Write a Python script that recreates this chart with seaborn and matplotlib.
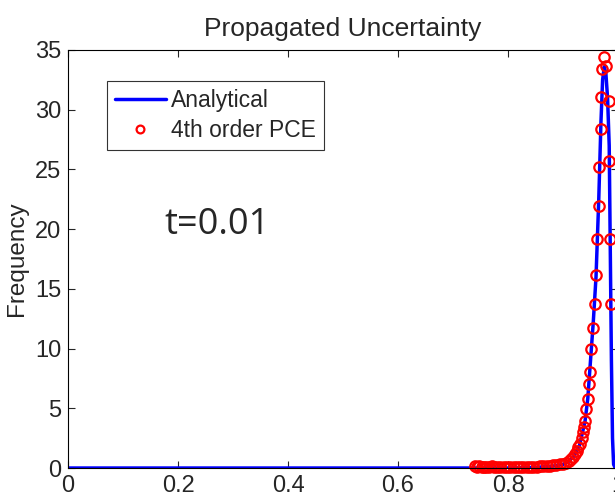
import matplotlib
matplotlib.use("Agg")
import matplotlib.pyplot as plt
import seaborn as sns

# analytical density (blue line)
exact_x = [0.0, 0.80, 0.85, 0.88, 0.90, 0.91, 0.92, 0.93, 0.94, 0.945, 0.95, 0.955,
           0.96, 0.965, 0.969, 0.972, 0.975, 0.978, 0.981, 0.984, 0.986, 0.988,
           0.990, 0.992, 0.995, 1.0]
exact_y = [0.0, 0.0, 0.05, 0.15, 0.30, 0.55, 1.0, 1.9, 3.9, 5.8, 9.0, 12.2,
           16.0, 22.5, 29.0, 32.5, 33.6, 33.0, 31.0, 27.0, 18.0, 9.0,
           2.5, 0.3, 0.0, 0.0]

# 4th order PCE estimate (red circles)
pce_x = [0.740, 0.744, 0.748, 0.752, 0.756, 0.760, 0.765, 0.770, 0.775, 0.780,
         0.786, 0.792, 0.798, 0.804, 0.810, 0.816, 0.822, 0.828, 0.834, 0.840,
         0.846, 0.852, 0.858, 0.864, 0.870, 0.876, 0.882, 0.888, 0.894, 0.900,
         0.905, 0.910, 0.914, 0.918, 0.922, 0.925, 0.928, 0.931, 0.934, 0.936,
         0.938, 0.940, 0.942, 0.945, 0.947, 0.949, 0.951, 0.9545, 0.958, 0.960,
         0.962, 0.9655, 0.9655, 0.969, 0.969, 0.971, 0.9745, 0.978, 0.9836, 0.984,
         0.985, 0.987]
pce_y = [0.15, 0.05, 0.20, 0.08, 0.12, 0.10, 0.05, 0.15, 0.08, 0.10,
         0.08, 0.05, 0.10, 0.08, 0.06, 0.08, 0.10, 0.10, 0.08, 0.10,
         0.12, 0.12, 0.14, 0.15, 0.17, 0.20, 0.22, 0.25, 0.30, 0.36,
         0.45, 0.58, 0.72, 0.90, 1.15, 1.45, 1.75, 2.05, 2.55, 3.00,
         3.40, 3.90, 4.90, 5.80, 7.00, 8.00, 10.0, 11.7, 13.7, 16.2,
         19.2, 21.9, 25.2, 28.4, 31.1, 33.4, 34.4, 33.7, 30.7, 25.7,
         19.2, 13.7]

x_ticks = [0, 0.2, 0.4, 0.6, 0.8, 1.0]
x_tick_labels = ["0", "0.2", "0.4", "0.6", "0.8", "1"]
y_ticks = [0, 5, 10, 15, 20, 25, 30, 35]

sns.set_style("ticks")
plt.rcParams["font.family"] = ["Liberation Sans", "DejaVu Sans"]

fig = plt.figure(figsize=(6.15, 4.99), dpi=100)
ax = fig.add_axes([0.1106, 0.0621, 0.8943, 0.8377])

sns.lineplot(x=exact_x, y=exact_y, color="blue", linewidth=2.5,
             estimator=None, sort=False, label="Analytical", ax=ax)
sns.lineplot(x=pce_x, y=pce_y, color="red", linestyle="none", marker="o",
             markersize=7.5, markerfacecolor="none", markeredgecolor="red",
             markeredgewidth=1.6, estimator=None, sort=False,
             label="4th order PCE", clip_on=False, ax=ax)

ax.set_xlim(0, 1)
ax.set_ylim(0, 35)
ax.set_xticks(x_ticks)
ax.set_xticklabels(x_tick_labels)
ax.set_yticks(y_ticks)
ax.tick_params(direction="in", top=True, right=True, length=5, width=0.8,
               labelsize=17, pad=5)
for sp in ax.spines.values():
    sp.set_linewidth(0.8)
    sp.set_color("black")

ax.set_title("Propagated Uncertainty", fontsize=19, pad=10)
ax.set_xlabel("")
ax.set_ylabel("Frequency", fontsize=17.5, labelpad=5)
ax.text(0.176, 19.6, "t=0.01", fontsize=26, family=["Open Sans", "DejaVu Sans"])

leg = ax.legend(loc="upper left", bbox_to_anchor=(0.071, 0.926), borderaxespad=0,
                fontsize=16.5, frameon=True, fancybox=False, edgecolor="0.2",
                framealpha=1, handlelength=2.2, handletextpad=0.25,
                borderpad=0.35, labelspacing=0.3, markerscale=0.75)
leg.get_frame().set_linewidth(0.8)

fig.savefig("out.png", dpi=100)
